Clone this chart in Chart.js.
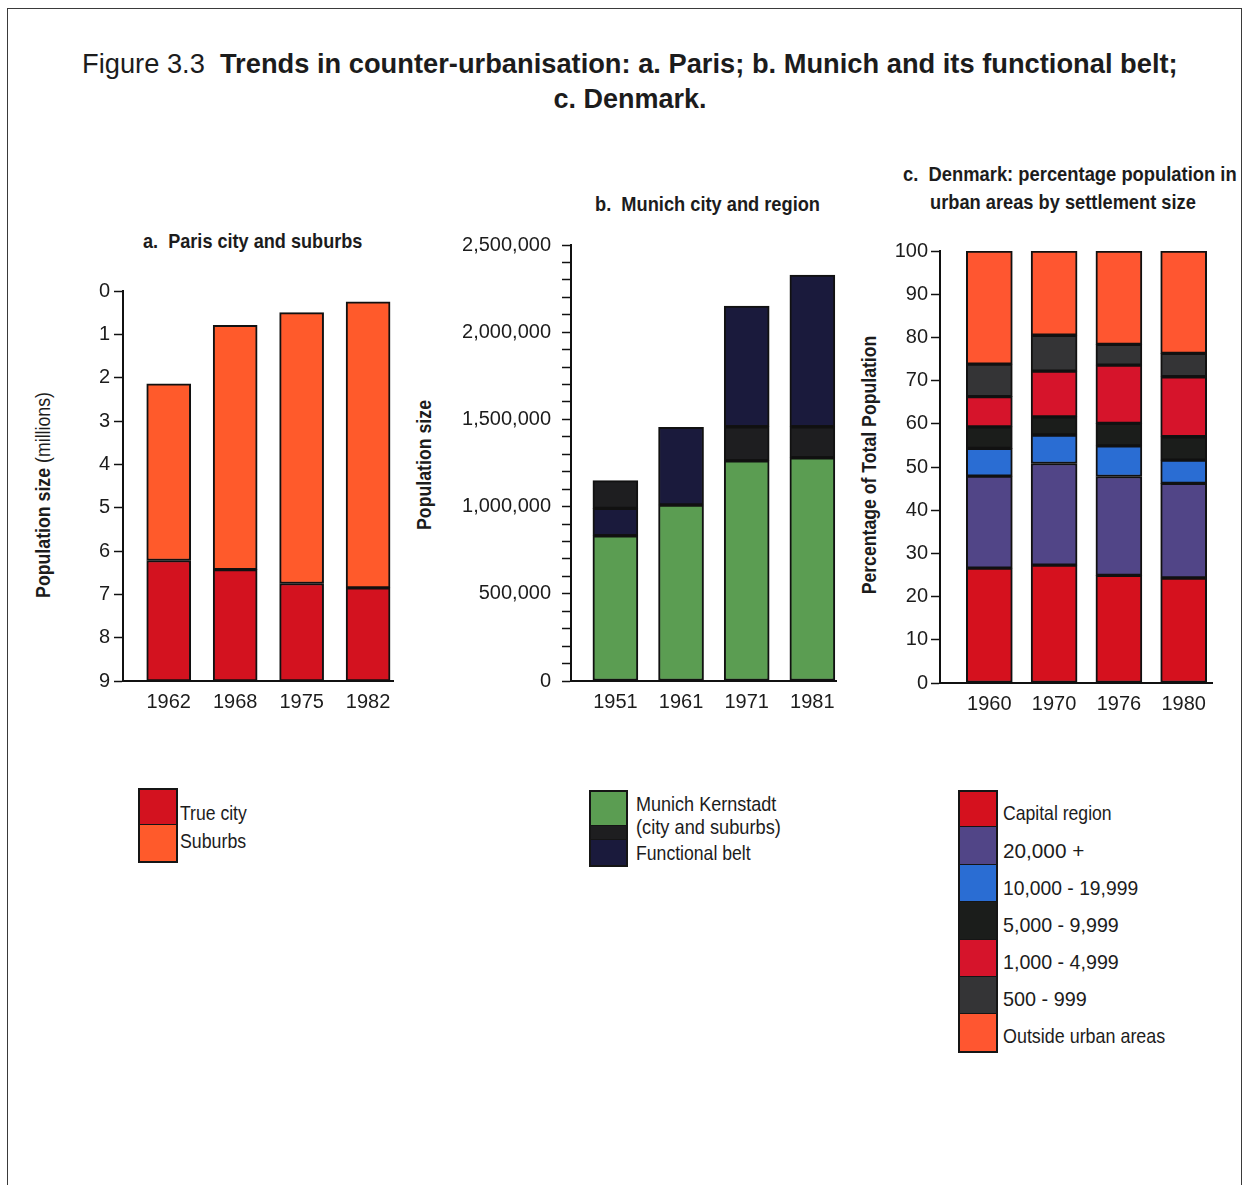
<!DOCTYPE html>
<html>
<head>
<meta charset="utf-8">
<title>Figure 3.3 Trends in counter-urbanisation</title>
<script src="https://cdn.jsdelivr.net/npm/chart.js@4.4.1/dist/chart.umd.min.js"></script>
<style>
  html, body { margin: 0; padding: 0; background: #fff; }
  body {
    width: 1248px; height: 1185px; position: relative; overflow: hidden;
    font-family: "Liberation Sans", Arial, sans-serif;
    color: #1c1c1c;
  }
  .frame { position: absolute; left: 7px; top: 8px; width: 1233px; height: 1200px;
           border: 1.5px solid #3a3a3a; border-bottom: none; }
  .abs { position: absolute; white-space: nowrap; line-height: 1; }
  canvas { position: absolute; }
  .fig-title { font-size: 27px; }
  .chart-title { font-size: 21px; font-weight: bold; }
  .ytitle { font-size: 21px; }
  .legend-text { font-size: 21px; }
  .swatch { position: absolute; box-sizing: border-box; }
</style>
</head>
<body>
<div class="frame"></div>

<div class="abs fig-title" data-fit="1096" data-anchor="left" style="left:82px; top:51px;">Figure 3.3&nbsp; <b>Trends in counter-urbanisation: a. Paris; b. Munich and its functional belt;</b></div>
<div class="abs fig-title" data-anchor="center" style="left:630px; top:86px;"><b>c. Denmark.</b></div>

<div class="abs chart-title" data-fit="219" data-anchor="left" style="left:143px; top:230px;">a.&nbsp; Paris city and suburbs</div>
<div class="abs chart-title" data-fit="225" data-anchor="left" style="left:595px; top:193px;">b.&nbsp; Munich city and region</div>
<div class="abs chart-title" data-fit="334" data-anchor="left" style="left:903px; top:163px;">c.&nbsp; Denmark: percentage population in</div>
<div class="abs chart-title" data-fit="266" data-anchor="left" style="left:930px; top:191px;">urban areas by settlement size</div>

<div class="abs ytitle" data-fit="206" data-anchor="rot" style="left:42px; top:495px;"><b>Population size</b> (millions)</div>
<div class="abs ytitle" data-fit="130" data-anchor="rot" style="left:423px; top:465px;"><b>Population size</b></div>
<div class="abs ytitle" data-fit="259" data-anchor="rot" style="left:868px; top:465px;"><b>Percentage of Total Population</b></div>

<canvas id="paris" width="390" height="500" style="left:20px; top:221px;"></canvas>
<canvas id="munich" width="406" height="521" style="left:450px; top:200px;"></canvas>
<canvas id="denmark" width="368" height="523" style="left:880px; top:200px;"></canvas>

<div id="legends"></div>

<script>
// ---- a. Paris (millions) ----
const parisYears = ['1962', '1968', '1975', '1982'];
const parisTrueCity = [2.78, 2.57, 2.25, 2.15];
const parisSuburbs = [4.08, 5.64, 6.25, 6.60];
const parisAxisMax = 9;
const parisTicks = [0, 1, 2, 3, 4, 5, 6, 7, 8, 9];

// ---- b. Munich (persons) ----
const munichYears = ['1951', '1961', '1971', '1981'];
const munichKernstadt = [833000, 1009000, 1263000, 1280000];
// functional belt, printed as a dark base band, the main band and a dark top band
const beltDarkBase = [0, 0, 195000, 178000];
const beltBody = [157000, 446000, 692000, 870000];
const beltDarkTop = [159000, 0, 0, 0];
const munichTickLabels = [0, 500000, 1000000, 1500000, 2000000, 2500000];

// ---- c. Denmark (% of total population) ----
const dkYears = ['1960', '1970', '1976', '1980'];
const dkCapital = [26.6, 27.3, 24.9, 24.3];
const dk20000 = [21.3, 23.5, 22.9, 21.9];
const dk10000 = [6.4, 6.6, 7.1, 5.4];
const dk5000 = [5.0, 4.2, 5.2, 5.4];
const dk1000 = [7.0, 10.6, 13.5, 13.9];
const dk500 = [7.5, 8.3, 4.8, 5.4];
const dkOutside = [26.2, 19.5, 21.6, 23.7];
const dkTicks = [0, 10, 20, 30, 40, 50, 60, 70, 80, 90, 100];

const FONT = '"Liberation Sans", Arial, sans-serif';
const INK = '#1c1c1c';

const COLORS = {
  trueCity: '#d3121f',
  suburbs: '#ff5a2b',
  kernstadt: '#5b9d52',
  beltDark: '#1e1e20',
  belt: '#1a1a3c',
  capital: '#d5111e',
  c20000: '#514587',
  c10000: '#2a6dd3',
  c5000: '#1b1d1b',
  c1000: '#d6142b',
  c500: '#343436',
  outside: '#ff5630'
};

Chart.defaults.font.family = FONT;
Chart.defaults.color = INK;
Chart.defaults.animation = false;
Chart.defaults.devicePixelRatio = 1;

function pts(values, map) {
  return values.map((v, i) => ({ x: i, y: map ? map(v, i) : v }));
}

function barSet(label, data, color, thickness, extra) {
  return Object.assign({
    label, data,
    backgroundColor: color,
    borderColor: '#111',
    borderWidth: 2,
    borderSkipped: false,
    barThickness: thickness
  }, extra || {});
}

// category positions 0..n-1 on a linear scale, one year label under each bar
function xAxis(min, max, labels) {
  return {
    type: 'linear', min, max, bounds: 'data', offset: false, stacked: true,
    grid: { display: false, drawTicks: false, offset: false },
    border: { display: true, color: '#111', width: 2 },
    afterBuildTicks: s => { s.ticks = labels.map((_, i) => ({ value: i })); },
    ticks: {
      autoSkip: false, maxRotation: 0, minRotation: 0,
      padding: 9, color: INK, font: { size: 20 },
      callback: v => labels[v] !== undefined ? labels[v] : ''
    },
    afterFit: s => { s.height = 40; }
  };
}

function yAxis(min, max, step, reverse, stacked, width, pad, shown, fmt) {
  return {
    type: 'linear', min, max, reverse, stacked, bounds: 'data',
    grid: { display: true, drawOnChartArea: false, drawTicks: true, tickLength: 9,
            tickColor: '#111', tickWidth: 1.5 },
    border: { display: true, color: '#111', width: 2 },
    ticks: {
      stepSize: step, autoSkip: false, padding: pad, color: INK, font: { size: 20 },
      callback: v => shown.includes(v) ? fmt(v) : ''
    },
    afterFit: s => { s.width = width; }
  };
}

const common = {
  responsive: false,
  maintainAspectRatio: false,
  plugins: { legend: { display: false }, title: { display: false }, tooltip: { enabled: false } }
};

// a. Paris: axis reads 0 at the top, bars rise from the 9 million baseline
new Chart(document.getElementById('paris'), {
  type: 'bar',
  data: {
    datasets: [
      barSet('True city', pts(parisTrueCity, v => [parisAxisMax, parisAxisMax - v]),
             COLORS.trueCity, 44, { grouped: false }),
      barSet('Suburbs', pts(parisSuburbs, (v, i) => [parisAxisMax - parisTrueCity[i],
             parisAxisMax - parisTrueCity[i] - v]), COLORS.suburbs, 44, { grouped: false })
    ]
  },
  options: Object.assign({}, common, {
    layout: { padding: { top: 70, right: 17, bottom: 0, left: 0 } },
    scales: {
      x: xAxis(-0.688, 3.375, parisYears),
      y: yAxis(0, parisAxisMax, 1, true, false, 103, 4, parisTicks, v => String(v))
    }
  })
});

// b. Munich
new Chart(document.getElementById('munich'), {
  type: 'bar',
  data: {
    datasets: [
      barSet('Munich Kernstadt (city and suburbs)', pts(munichKernstadt), COLORS.kernstadt, 45),
      barSet('Functional belt', pts(beltDarkBase), COLORS.beltDark, 45),
      barSet('Functional belt', pts(beltBody), COLORS.belt, 45),
      barSet('Functional belt', pts(beltDarkTop), COLORS.beltDark, 45)
    ]
  },
  options: Object.assign({}, common, {
    layout: { padding: { top: 45, right: 20, bottom: 0, left: 0 } },
    scales: {
      x: xAxis(-0.676, 3.36, munichYears),
      y: yAxis(0, 2500000, 100000, false, true, 121, 11, munichTickLabels,
               v => v.toLocaleString('en-US'))
    }
  })
});

// c. Denmark
new Chart(document.getElementById('denmark'), {
  type: 'bar',
  data: {
    datasets: [
      barSet('Capital region', pts(dkCapital), COLORS.capital, 46),
      barSet('20,000 +', pts(dk20000), COLORS.c20000, 46),
      barSet('10,000 - 19,999', pts(dk10000), COLORS.c10000, 46),
      barSet('5,000 - 9,999', pts(dk5000), COLORS.c5000, 46),
      barSet('1,000 - 4,999', pts(dk1000), COLORS.c1000, 46),
      barSet('500 - 999', pts(dk500), COLORS.c500, 46),
      barSet('Outside urban areas', pts(dkOutside), COLORS.outside, 46)
    ]
  },
  options: Object.assign({}, common, {
    layout: { padding: { top: 51, right: 36, bottom: 0, left: 0 } },
    scales: {
      x: xAxis(-0.761, 3.437, dkYears),
      y: yAxis(0, 100, 10, false, true, 60, 3, dkTicks, v => String(v))
    }
  })
});

// ---- legends ----
function legend(container, boxLeft, boxWidth, textLeft, rows) {
  rows.forEach(r => {
    if (r.color) {
      const sw = document.createElement('div');
      sw.className = 'swatch';
      sw.style.cssText = `left:${boxLeft}px; top:${r.top}px; width:${boxWidth}px; height:${r.height}px;` +
        `background:${r.color}; border:2px solid #151515; ${r.noTop ? 'border-top:none;' : ''}`;
      container.appendChild(sw);
    }
    if (r.text) {
      const t = document.createElement('div');
      t.className = 'abs legend-text';
      t.dataset.fit = r.fit;
      t.dataset.anchor = 'mid';
      t.style.cssText = `left:${textLeft}px; top:${r.textY}px;`;
      t.textContent = r.text;
      container.appendChild(t);
    }
  });
}
const lg = document.getElementById('legends');
legend(lg, 138, 40, 180, [
  { color: COLORS.trueCity, top: 788, height: 38, text: 'True city', textY: 812, fit: 67 },
  { color: COLORS.suburbs, top: 825, height: 38, noTop: true, text: 'Suburbs', textY: 840, fit: 66 }
]);
legend(lg, 589, 39, 636, [
  { color: COLORS.kernstadt, top: 790, height: 37, text: 'Munich Kernstadt', textY: 803, fit: 140 },
  { color: COLORS.beltDark, top: 826, height: 15, noTop: true, text: '(city and suburbs)', textY: 826, fit: 145 },
  { color: COLORS.belt, top: 840, height: 27, noTop: true, text: 'Functional belt', textY: 852, fit: 115 }
]);
const dkRows = [
  ['Capital region', COLORS.capital, 812, 109],
  ['20,000 +', COLORS.c20000, 850, 81],
  ['10,000 - 19,999', COLORS.c10000, 887, 135],
  ['5,000 - 9,999', COLORS.c5000, 924, 116],
  ['1,000 - 4,999', COLORS.c1000, 961, 116],
  ['500 - 999', COLORS.c500, 998, 84],
  ['Outside urban areas', COLORS.outside, 1035, 162]
];
legend(lg, 958, 40, 1003, dkRows.map((r, i) => ({
  color: r[1], top: 790 + i * 37.4, height: 38.4, noTop: i > 0, text: r[0], textY: r[2], fit: r[3]
})));

// condense the printed labels horizontally to their set widths
document.querySelectorAll('[data-anchor]').forEach(el => {
  const w = el.offsetWidth;
  const s = el.dataset.fit ? (+el.dataset.fit / w) : 1;
  const a = el.dataset.anchor;
  if (a === 'left') { el.style.transformOrigin = '0 50%'; el.style.transform = `scaleX(${s})`; }
  else if (a === 'center') { el.style.transform = `translateX(-50%) scaleX(${s})`; }
  else if (a === 'mid') { el.style.transformOrigin = '0 50%'; el.style.transform = `translateY(-50%) scaleX(${s})`; }
  else if (a === 'rot') { el.style.transform = `translate(-50%, -50%) rotate(-90deg) scaleX(${s})`; }
});
</script>
</body>
</html>
